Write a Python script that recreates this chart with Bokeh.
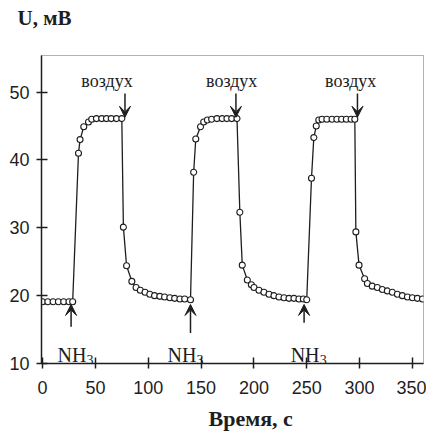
from bokeh.plotting import figure
from bokeh.models import ColumnDataSource, Range1d, Arrow, VeeHead, Title
from bokeh.core.properties import value
from bokeh.embed import file_html
from bokeh.resources import INLINE

# ---- data (time, s / voltage, mV) ----
time_s = [0, 5, 10, 15, 20, 25, 28.5,
          34, 35.5, 39, 43.5, 46.5, 51, 56, 60.5, 65, 70, 75,
          76.5, 79.5, 84.5, 88.5, 92.5, 97, 101.5, 106, 111, 115.5, 120.5, 125, 130, 134.5, 140,
          143, 145, 149.5, 152.5, 156, 160, 165, 170, 174.5, 179, 184,
          186.7, 189, 193.8, 197.6, 200.1, 204.8, 209.5, 214.3, 219, 223.7, 228.5, 233.2, 237.9, 242.6, 246.8, 250,
          254.5, 256.7, 259, 261.4, 264.5, 269, 274, 278.5, 283, 287.5, 292, 295.5,
          296.5, 299.5, 304.8, 307.4, 312, 316.8, 321.6, 326.3, 331, 335.8, 340.5, 345.3, 350, 354.7, 359.5]
u_mv = [19.1, 19.1, 19.1, 19.1, 19.1, 19.1, 19.1,
        41.0, 43.0, 44.9, 45.6, 46.0, 46.1, 46.1, 46.1, 46.1, 46.1, 46.1,
        30.1, 24.4, 22.1, 21.2, 20.8, 20.5, 20.2, 20.0, 19.9, 19.8, 19.7, 19.6, 19.5, 19.5, 19.4,
        38.2, 43.1, 44.9, 45.6, 45.9, 46.0, 46.1, 46.1, 46.1, 46.1, 46.1,
        32.3, 24.5, 22.3, 21.6, 21.2, 20.8, 20.5, 20.2, 20.0, 19.8, 19.7, 19.6, 19.6, 19.5, 19.5, 19.4,
        37.3, 43.3, 45.0, 45.9, 46.0, 46.0, 46.0, 46.0, 46.0, 46.0, 46.0, 46.0,
        29.4, 24.5, 22.5, 21.8, 21.4, 21.2, 20.9, 20.7, 20.5, 20.2, 20.0, 19.8, 19.7, 19.6, 19.5]

x_ticks = [0, 50, 100, 150, 200, 250, 300, 350]
y_ticks = [10, 20, 30, 40, 50]

# annotation anchors
air_label = "воздух"
air_text_t = [61, 179, 291.6]
air_arrow_t = [78, 183, 298]
nh3_text_t = [14.2, 118.3, 234.8]
nh3_arrow_t = [27, 140, 247.5]
nh3_tail_u = [15.4, 14.5, 16.0]

INK = "#1e1e1e"

p = figure(width=426, height=438, output_backend="svg", toolbar_location=None,
           x_range=Range1d(-1, 360.5), y_range=Range1d(10, 55.4),
           min_border_left=41, min_border_right=3, min_border_top=55, min_border_bottom=74)
p.background_fill_color = "white"
p.border_fill_color = "white"
p.outline_line_color = "#666666"
p.outline_line_dash = "1 1"
p.outline_line_width = 1
p.xgrid.visible = False
p.ygrid.visible = False

p.title.text = "U, мВ\n"
p.title.align = "left"
p.title.vertical_align = "top"
p.title.offset = -24
p.title.standoff = 0
p.title.text_font = "Liberation Serif"
p.title.text_font_style = "bold"
p.title.text_font_size = "21px"
p.title.text_color = INK

for ax in (p.xaxis[0], p.yaxis[0]):
    ax.axis_line_color = INK
    ax.axis_line_width = 1.5
    ax.major_tick_line_color = INK
    ax.major_tick_line_width = 1.5
    ax.minor_tick_line_color = INK
    ax.major_label_text_font = "Liberation Sans"
    ax.major_label_text_font_size = "18px"
    ax.major_label_text_color = INK
    ax.major_tick_in = 6
    ax.major_tick_out = 5
    ax.minor_tick_in = 4
    ax.minor_tick_out = 1

p.xaxis.ticker = x_ticks
p.xaxis[0].ticker.num_minor_ticks = 5
p.yaxis.ticker = y_ticks
p.yaxis[0].ticker.num_minor_ticks = 5
p.xaxis.major_label_standoff = 12
p.yaxis.major_label_standoff = 7

xlab = Title(text="Время, с", align="left", offset=167, standoff=15,
             text_font="Liberation Serif", text_font_style="bold",
             text_font_size="22px", text_color=INK)
p.add_layout(xlab, "below")

src = ColumnDataSource(dict(t=time_s, u=u_mv))
p.line("t", "u", source=src, line_color=INK, line_width=1.3)
p.scatter("t", "u", source=src, marker="circle", size=6, fill_color="white",
          line_color=INK, line_width=1.1)

# "воздух" labels and arrows
p.text(x=air_text_t, y=[51.7] * 3, text=[air_label] * 3, text_align="center",
       text_baseline="alphabetic", text_font=value("Liberation Serif"),
       text_font_size="18px", text_color=INK)
for t in air_arrow_t:
    p.add_layout(Arrow(end=VeeHead(size=11, fill_color=INK, line_color=INK, line_width=1),
                       x_start=t, y_start=49.8, x_end=t, y_end=46.3,
                       line_color=INK, line_width=1.5))

# NH3 labels and arrows
p.text(x=nh3_text_t, y=[11.3] * 3, text=["NH"] * 3, text_align="left",
       text_baseline="alphabetic", text_font=value("Liberation Serif"),
       text_font_size="20px", text_color=INK)
p.text(x=nh3_text_t, y=[11.3] * 3, text=["3"] * 3, text_align="left",
       text_baseline="alphabetic", text_font=value("Liberation Serif"),
       text_font_size="14px", text_color=INK, x_offset=29, y_offset=5)
for t, tu in zip(nh3_arrow_t, nh3_tail_u):
    p.add_layout(Arrow(end=VeeHead(size=11, fill_color=INK, line_color=INK, line_width=1),
                       x_start=t, y_start=tu, x_end=t, y_end=18.7,
                       line_color=INK, line_width=1.5))

open("out.html", "w").write(file_html(p, INLINE))
